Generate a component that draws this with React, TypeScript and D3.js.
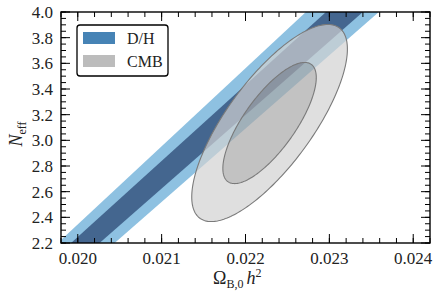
import React from "react";
import * as d3 from "d3";

// ---- data ----
const xDomain = [0.0198, 0.0242];
const yDomain = [2.2, 4.0];
const xTicks = [0.020, 0.021, 0.022, 0.023, 0.024];
const xTickLabels = ["0.020", "0.021", "0.022", "0.023", "0.024"];
const yTicks = [2.2, 2.4, 2.6, 2.8, 3.0, 3.2, 3.4, 3.6, 3.8, 4.0];
const yTickLabels = ["2.2", "2.4", "2.6", "2.8", "3.0", "3.2", "3.4", "3.6", "3.8", "4.0"];

// D/H band edges (Omega_b h^2) at N_eff = 2.2 and 4.0
const bandN = [2.2, 4.0];
const dh2Low = [0.01976, 0.02272];
const dh2High = [0.02044, 0.02359];
const dh1Low = [0.01992, 0.02296];
const dh1High = [0.02026, 0.02340];

// CMB contour (Gaussian ellipses): center, half-extents, correlation
const cmbCenter = [0.022287, 3.135];
const cmb1Half = [0.000557, 0.472];
const cmb2Half = [0.000928, 0.768];
const cmbRho = 0.75;

const W = 436, H = 298;
const M = { left: 61, right: 430, top: 12, bottom: 243 };

export default function App() {
  const x = d3.scaleLinear().domain(xDomain).range([M.left, M.right]);
  const y = d3.scaleLinear().domain(yDomain).range([M.bottom, M.top]);

  const band = (lo: number[], hi: number[]) => {
    const pts: [number, number][] = [
      [x(lo[0]), y(bandN[0])],
      [x(hi[0]), y(bandN[0])],
      [x(hi[1]), y(bandN[1])],
      [x(lo[1]), y(bandN[1])],
    ];
    return d3.line()(pts) + "Z";
  };

  const ellipsePts = (half: number[]) => {
    const n = 240;
    const pts: [number, number][] = [];
    const s = Math.sqrt(1 - cmbRho * cmbRho);
    for (let i = 0; i < n; i++) {
      const t = (i / n) * Math.PI * 2;
      const ox = cmbCenter[0] + half[0] * Math.cos(t);
      const oy = cmbCenter[1] + half[1] * (cmbRho * Math.cos(t) + s * Math.sin(t));
      pts.push([x(ox), y(oy)]);
    }
    return pts;
  };
  const closed = d3.line().curve(d3.curveLinearClosed);
  const outerPts = ellipsePts(cmb2Half);
  const innerPts = ellipsePts(cmb1Half);
  const outerPath = closed(outerPts) as string;
  const innerPath = closed(innerPts) as string;
  const annulus = outerPath + (closed(innerPts.slice().reverse()) as string);

  const xMinor = d3.range(99, 122).map((i) => i * 0.0002);
  const yMinor = d3.range(44, 81).map((i) => i * 0.05);

  const font = "'Liberation Serif', 'Times New Roman', serif";
  const majorLen = 9, minorLen = 5;

  return (
    <svg width={W} height={H} style={{ position: "absolute", left: 0, top: 0, background: "#fff" }}>
      <defs>
        <clipPath id="plotclip">
          <rect x={M.left} y={M.top} width={M.right - M.left} height={M.bottom - M.top} />
        </clipPath>
      </defs>
      <g clipPath="url(#plotclip)">
        <path d={band(dh2Low, dh2High)} fill="#8ec1e1" />
        <path d={band(dh1Low, dh1High)} fill="#44668f" />
        <path d={annulus} fill="#d2d2d2" fillOpacity={0.7} fillRule="evenodd" />
        <path d={innerPath} fill="#a8a8a8" fillOpacity={0.7} />
        <path d={outerPath} fill="none" stroke="#7a7a7a" strokeWidth={1.1} />
        <path d={innerPath} fill="none" stroke="#7a7a7a" strokeWidth={1.1} />
      </g>

      {/* ticks */}
      <g stroke="#000" strokeWidth={1}>
        {xMinor.map((v, i) => (
          <g key={"xm" + i}>
            <line x1={x(v)} x2={x(v)} y1={M.bottom} y2={M.bottom - minorLen} />
            <line x1={x(v)} x2={x(v)} y1={M.top} y2={M.top + minorLen} />
          </g>
        ))}
        {xTicks.map((v, i) => (
          <g key={"xM" + i}>
            <line x1={x(v)} x2={x(v)} y1={M.bottom} y2={M.bottom - majorLen} />
            <line x1={x(v)} x2={x(v)} y1={M.top} y2={M.top + majorLen} />
          </g>
        ))}
        {yMinor.map((v, i) => (
          <g key={"ym" + i}>
            <line x1={M.left} x2={M.left + minorLen} y1={y(v)} y2={y(v)} />
            <line x1={M.right} x2={M.right - minorLen} y1={y(v)} y2={y(v)} />
          </g>
        ))}
        {yTicks.map((v, i) => (
          <g key={"yM" + i}>
            <line x1={M.left} x2={M.left + majorLen} y1={y(v)} y2={y(v)} />
            <line x1={M.right} x2={M.right - majorLen} y1={y(v)} y2={y(v)} />
          </g>
        ))}
      </g>
      <rect x={M.left} y={M.top} width={M.right - M.left} height={M.bottom - M.top}
        fill="none" stroke="#000" strokeWidth={1.4} />

      {/* tick labels */}
      <g fontFamily={font} fontSize={17} fill="#222">
        {xTicks.map((v, i) => (
          <text key={"xl" + i} x={x(v)} y={264} textAnchor="middle">{xTickLabels[i]}</text>
        ))}
        {yTicks.map((v, i) => (
          <text key={"yl" + i} x={53} y={y(v)} dy="0.35em" textAnchor="end">{yTickLabels[i]}</text>
        ))}
      </g>

      {/* axis labels */}
      <text x={213} y={284} fontFamily={font} fontSize={18} fill="#222">
        Ω<tspan fontSize={12} dy={4}>B,0</tspan>
        <tspan dy={-4} fontStyle="italic" dx={3}>h</tspan>
        <tspan fontSize={12} dy={-7}>2</tspan>
      </text>
      <text transform={`translate(22,${(M.top + M.bottom) / 2 + 19}) rotate(-90)`} fontFamily={font} fontSize={18} fill="#222">
        <tspan fontStyle="italic">N</tspan>
        <tspan fontSize={12} dy={4}>eff</tspan>
      </text>

      {/* legend */}
      <rect x={77} y={25} width={91} height={51} rx={3} fill="#fff" stroke="#000" strokeWidth={1.3} />
      <rect x={83} y={32} width={32} height={12} fill="#4683b5" />
      <rect x={83} y={55} width={32} height={12} fill="#bcbcbc" />
      <g fontFamily={font} fontSize={16} fill="#222">
        <text x={127} y={44}>D/H</text>
        <text x={127} y={67}>CMB</text>
      </g>
    </svg>
  );
}
